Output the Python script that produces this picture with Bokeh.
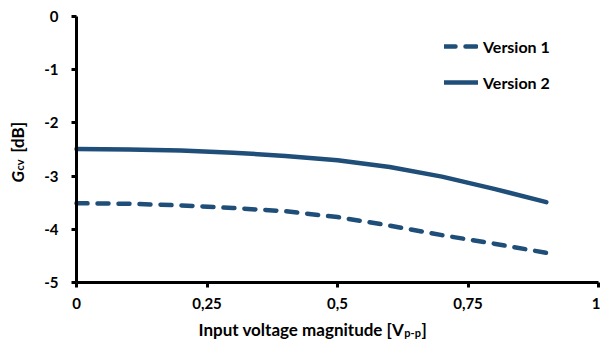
import math
from bokeh.plotting import figure
from bokeh.models import Label, Legend, LegendItem, FixedTicker, Range1d
from bokeh.embed import file_html
from bokeh.resources import INLINE

# ---- data ----
x_v1 = [0.0, 0.1, 0.2, 0.3, 0.4, 0.5, 0.6, 0.7, 0.8, 0.91]
g_v1 = [-3.51, -3.52, -3.55, -3.60, -3.66, -3.77, -3.93, -4.11, -4.27, -4.46]
x_v2 = [0.0, 0.1, 0.2, 0.3, 0.4, 0.5, 0.6, 0.7, 0.8, 0.9]
g_v2 = [-2.49, -2.50, -2.52, -2.56, -2.62, -2.70, -2.83, -3.01, -3.24, -3.49]
series_names = ["Version 1", "Version 2"]
x_ticks = [0, 0.25, 0.5, 0.75, 1]
x_tick_labels = ["0", "0,25", "0,5", "0,75", "1"]
y_ticks = [0, -1, -2, -3, -4, -5]
y_tick_labels = ["0", "-1", "-2", "-3", "-4", "-5"]

FONT = "Lato"
COLOR = "#1F4E79"

W, H = 600, 340
p = figure(width=W, height=H, output_backend="svg", toolbar_location=None,
           x_range=Range1d(-0.1456, 1.0038), y_range=Range1d(-6.090, 0.3008),
           min_border=0, min_border_left=0, min_border_right=0,
           min_border_top=0, min_border_bottom=0)
p.outline_line_color = None
p.xgrid.visible = False
p.ygrid.visible = False
p.background_fill_color = "white"
p.border_fill_color = "white"

p.xaxis.fixed_location = -5
p.xaxis.bounds = (0, 1)
p.yaxis.fixed_location = 0
p.yaxis.bounds = (-5, 0)

for ax in (p.xaxis[0], p.yaxis[0]):
    ax.axis_line_width = 3
    ax.axis_line_color = "black"
    ax.major_tick_line_width = 3
    ax.major_tick_line_color = "black"
    ax.major_tick_out = 5
    ax.major_tick_in = 0
    ax.minor_tick_line_color = None
    ax.major_label_text_font = FONT
    ax.major_label_text_font_style = "bold"
    ax.major_label_text_font_size = "15px"
    ax.major_label_text_color = "black"
p.xaxis.major_label_standoff = 10
p.yaxis.major_label_standoff = 13

p.xaxis.ticker = FixedTicker(ticks=x_ticks)
p.xaxis.major_label_overrides = {t: l for t, l in zip(x_ticks, x_tick_labels)}
p.yaxis.ticker = FixedTicker(ticks=y_ticks)
p.yaxis.major_label_overrides = {t: l for t, l in zip(y_ticks, y_tick_labels)}

r1 = p.line(x_v1, g_v1, line_color=COLOR, line_width=4.5, line_dash="11 10", line_cap="round")
r2 = p.line(x_v2, g_v2, line_color=COLOR, line_width=4.5, line_cap="round")

legend = Legend(items=[LegendItem(label=series_names[0], renderers=[r1]),
                       LegendItem(label=series_names[1], renderers=[r2])],
                location=(444, 248), padding=0, margin=0, spacing=16,
                glyph_width=34, glyph_height=20, label_standoff=5,
                label_text_font=FONT, label_text_font_style="bold",
                label_text_font_size="16px", label_text_color="black",
                border_line_alpha=0, background_fill_alpha=0)
p.add_layout(legend)

# ---- axis titles (composed labels for sub-scripts) ----
lab_kw = dict(text_font=FONT, text_font_style="bold", text_color="black")
# y title, rotated
p.add_layout(Label(x=-0.1130, y=-3.12, text="G", angle=math.pi / 2, text_align="left",
                   text_baseline="alphabetic", text_font_size="17px",
                   text_font=FONT, text_font_style="bold italic", text_color="black"))
p.add_layout(Label(x=-0.1085, y=-2.895, text="cv", angle=math.pi / 2, text_align="left",
                   text_baseline="alphabetic", text_font_size="11px", **lab_kw))
p.add_layout(Label(x=-0.1130, y=-2.56, text="[dB]", angle=math.pi / 2, text_align="left",
                   text_baseline="alphabetic", text_font_size="17px", **lab_kw))
# x title
p.add_layout(Label(x=0.628, y=-5.883, text="Input voltage magnitude [V", text_align="right",
                   text_baseline="alphabetic", text_font_size="17px", **lab_kw))
p.add_layout(Label(x=0.628, y=-5.94, text="p-p", text_align="left",
                   text_baseline="alphabetic", text_font_size="11px", **lab_kw))
p.add_layout(Label(x=0.661, y=-5.883, text="]", text_align="left",
                   text_baseline="alphabetic", text_font_size="17px", **lab_kw))

open("out.html", "w").write(file_html(p, INLINE))
